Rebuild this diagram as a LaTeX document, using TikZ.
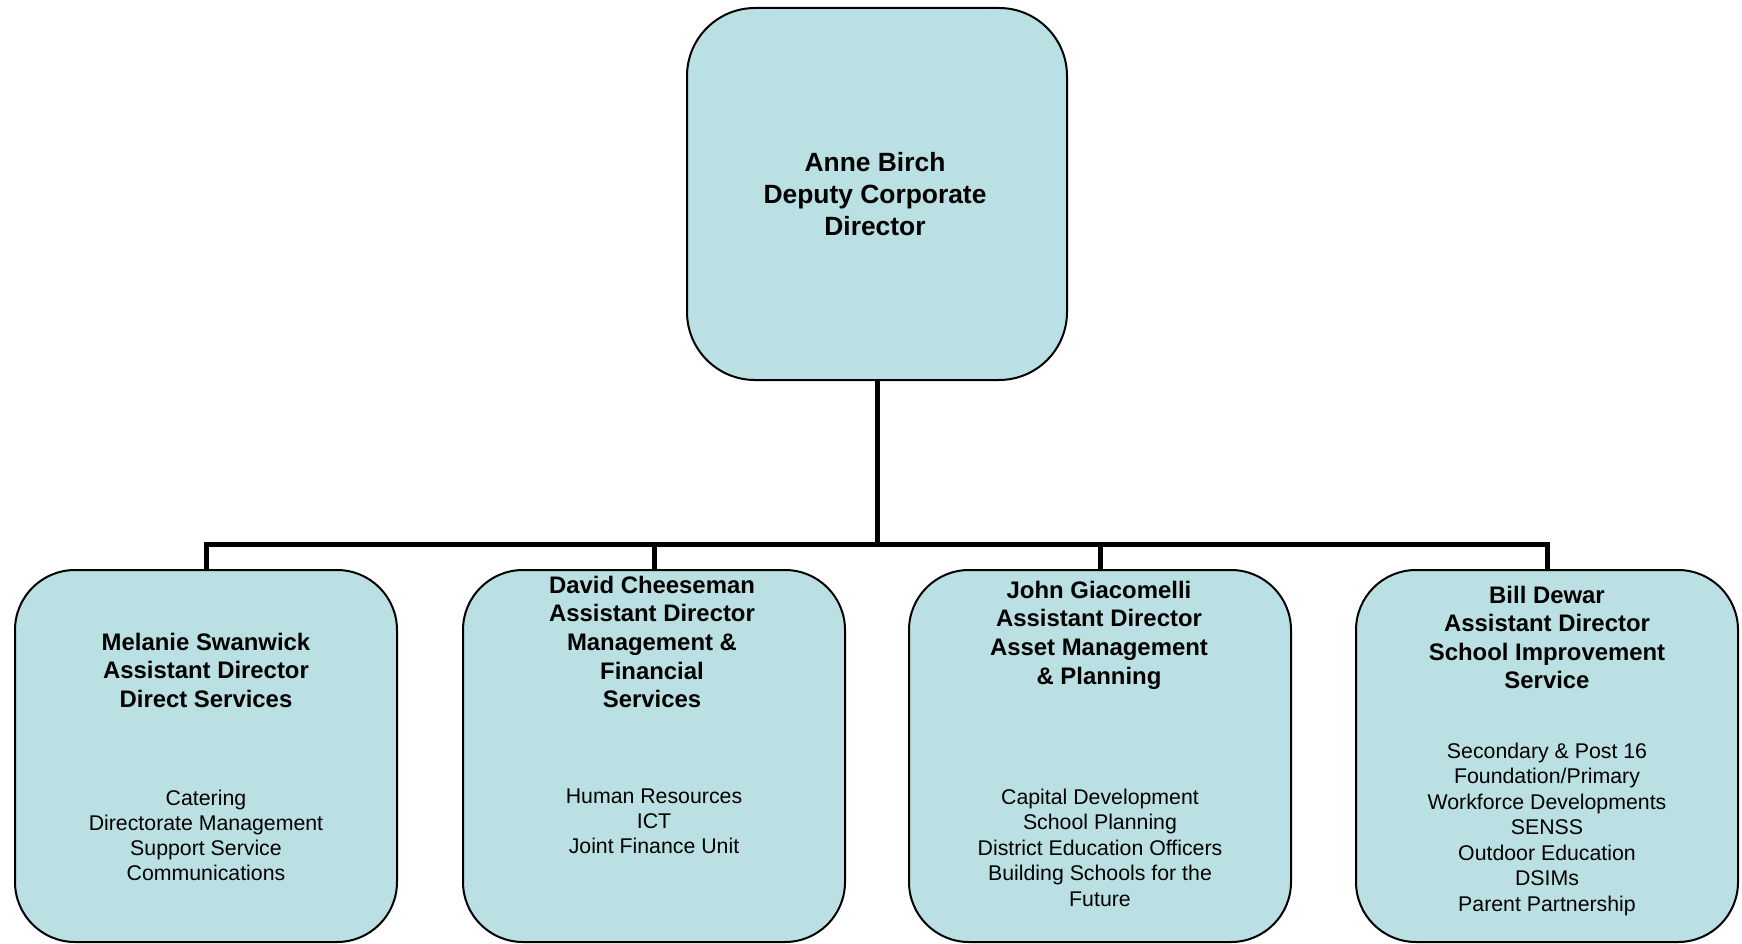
\documentclass[tikz,border=0pt]{standalone}
\usepackage{fontspec}
\setmainfont{Liberation Sans}
\definecolor{boxfill}{RGB}{187,224,227}
\tikzset{
  unitbox/.style={draw=black, line width=2pt, fill=boxfill, rounded corners=60pt,
    minimum width=382pt, minimum height=372pt, inner sep=0pt},
  topbox/.style={unitbox, rounded corners=68pt, minimum width=380pt},
  headtxt/.style={font=\fontsize{23.9}{28.6}\selectfont\bfseries, inner sep=0pt, anchor=base},
  bodytxt/.style={font=\fontsize{21.3}{25.4}\selectfont, inner sep=0pt, anchor=base},
  toptxt/.style={font=\fontsize{26.4}{31.5}\selectfont\bfseries, inner sep=0pt, anchor=base},
  link/.style={line width=5pt, draw=black}
}
\newcommand\txtlines[6]{%
  \foreach \tl [count=\ti from 0] in {#6} {\node[#5] (#1\ti) at (#2,{#3+\ti*#4}) {\tl};}}
\begin{document}
\begin{tikzpicture}[x=1pt,y=-1pt]
\useasboundingbox (0,0) rectangle (1742,944);
% boxes
\node[topbox] (top) at (877,194) {};
\node[unitbox] (b1) at (206,756) {};
\node[unitbox] (b2) at (654,756) {};
\node[unitbox] (b3) at (1100,756) {};
\node[unitbox] (b4) at (1547,756) {};
% connectors
\coordinate (bar) at (877,544);
\draw[link] (top.south) -- (bar);
\draw[link] (bar) -| (b1.north);
\draw[link] (bar) -| (b2.north);
\draw[link] (bar) -| (b3.north);
\draw[link] (bar) -| (b4.north);
% texts
\txtlines{tt}{875}{172}{31.5}{toptxt}{Anne Birch,Deputy Corporate,Director}
\txtlines{ha}{206}{650}{28.7}{headtxt}{Melanie Swanwick,Assistant Director,Direct Services}
\txtlines{ba}{206}{805}{25.2}{bodytxt}{Catering,Directorate Management,Support Service,Communications}
\txtlines{hb}{652}{593}{28.7}{headtxt}{David Cheeseman,Assistant Director,Management \&,Financial,Services}
\txtlines{bb}{654}{803}{25}{bodytxt}{Human Resources,ICT,Joint Finance Unit}
\txtlines{hc}{1099}{598}{28.7}{headtxt}{John Giacomelli,Assistant Director,Asset Management,\& Planning}
\txtlines{bc}{1100}{804}{25.5}{bodytxt}{Capital Development,School Planning,District Education Officers,Building Schools for the,Future}
\txtlines{hd}{1547}{603}{28.5}{headtxt}{Bill Dewar,Assistant Director,School Improvement,Service}
\txtlines{bd}{1547}{758}{25.5}{bodytxt}{Secondary \& Post 16,Foundation/Primary,Workforce Developments,SENSS,Outdoor Education,DSIMs,Parent Partnership}
\end{tikzpicture}
\end{document}
